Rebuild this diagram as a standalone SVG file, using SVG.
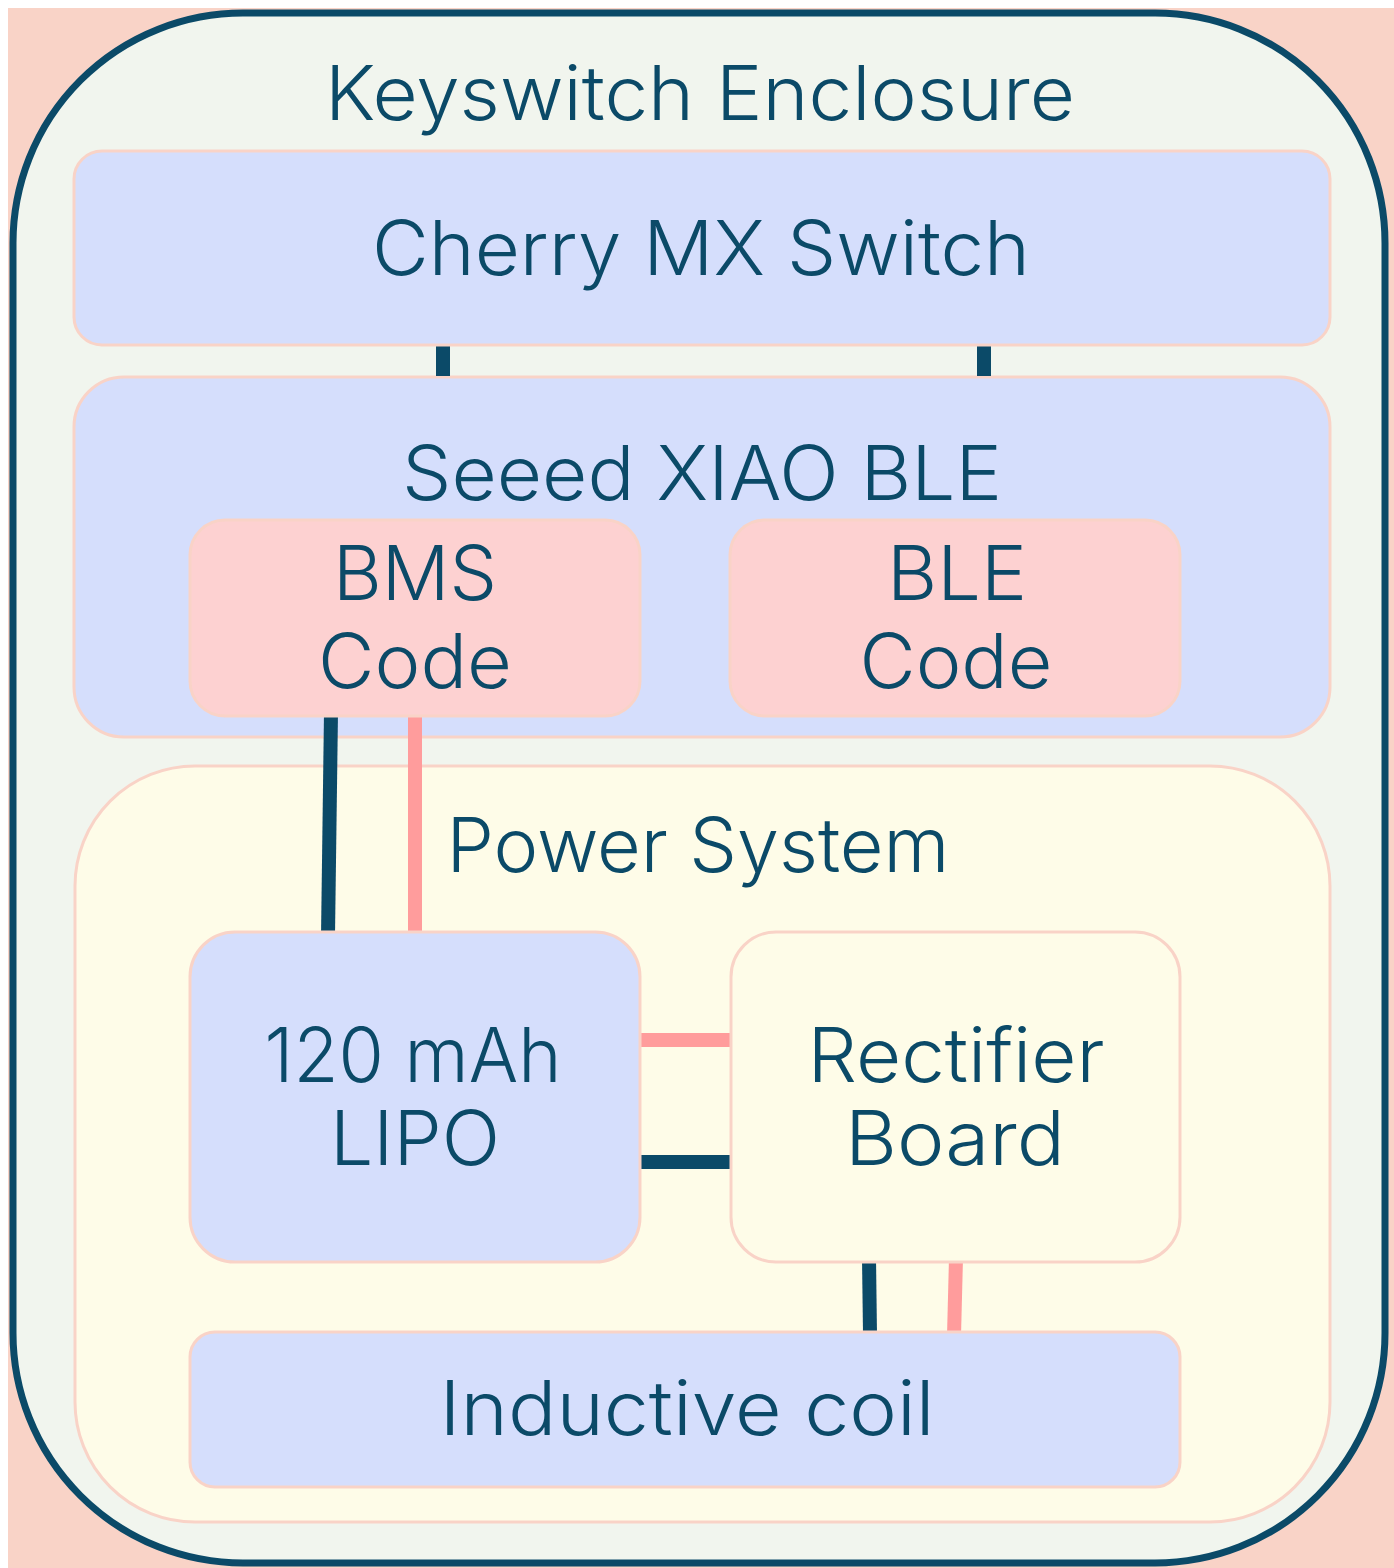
<svg xmlns="http://www.w3.org/2000/svg" width="1394" height="1568" viewBox="0 0 1394 1568">
<style>
.box{stroke:#F9D3C7;stroke-width:3}
.blue{fill:#D5DEFC}
.pink{fill:#FDD1D1}
.cream{fill:#FEFCE8}
.t{font-family:"Inter","Lato","Noto Sans","Liberation Sans",sans-serif;font-weight:300;font-size:75px;fill:#0B4A68;text-anchor:middle}
.dk{stroke:#0B4A68;stroke-width:14;fill:none}
.pk{stroke:#FF9C9C;stroke-width:14;fill:none}
</style>
<rect x="0" y="0" width="1394" height="1568" fill="#FFFFFF"/>
<rect x="8" y="8" width="1386" height="1560" fill="#F9D3C7"/>
<g id="enclosure">
<rect x="13" y="13" width="1372" height="1550" rx="230" ry="230" fill="#F1F5EE" stroke="#0B4A68" stroke-width="7"/>
<text class="t" x="700" y="120" textLength="750" lengthAdjust="spacingAndGlyphs">Keyswitch Enclosure</text>
</g>
<g id="power">
<rect class="box cream" x="75" y="766" width="1255" height="756" rx="120"/>
<text class="t" x="698" y="872" textLength="503" lengthAdjust="spacingAndGlyphs">Power System</text>
</g>
<g id="seeed">
<rect class="box blue" x="74" y="377" width="1256" height="360" rx="50"/>
<text class="t" x="702" y="500" textLength="600" lengthAdjust="spacingAndGlyphs">Seeed XIAO BLE</text>
</g>
<g id="connectors">
<line class="dk" x1="443" y1="340" x2="443" y2="376"/>
<line class="dk" x1="984" y1="340" x2="984" y2="376"/>
<line class="dk" x1="331" y1="712" x2="328" y2="936"/>
<line class="pk" x1="415" y1="712" x2="415" y2="936"/>
<line class="pk" x1="636" y1="1040" x2="732" y2="1040"/>
<line class="dk" x1="641" y1="1162" x2="730" y2="1162"/>
<line class="dk" x1="869" y1="1258" x2="870" y2="1334"/>
<line class="pk" x1="956" y1="1258" x2="954" y2="1336"/>
</g>
<g id="cherry">
<rect class="box blue" x="74" y="151" width="1256" height="194" rx="28"/>
<text class="t" x="701" y="275" textLength="658" lengthAdjust="spacingAndGlyphs">Cherry MX Switch</text>
</g>
<g id="bms">
<rect class="box pink" x="190" y="520" width="450" height="196" rx="35"/>
<text class="t" x="415" y="600" textLength="164" lengthAdjust="spacingAndGlyphs">BMS</text>
<text class="t" x="415" y="688" textLength="194" lengthAdjust="spacingAndGlyphs">Code</text>
</g>
<g id="ble">
<rect class="box pink" x="730" y="520" width="450" height="196" rx="35"/>
<text class="t" x="957" y="600" textLength="140" lengthAdjust="spacingAndGlyphs">BLE</text>
<text class="t" x="956" y="688" textLength="193" lengthAdjust="spacingAndGlyphs">Code</text>
</g>
<g id="lipo">
<rect class="box blue" x="190" y="932" width="450" height="330" rx="45"/>
<text class="t" x="413" y="1082" textLength="297" lengthAdjust="spacingAndGlyphs">120 mAh</text>
<text class="t" x="415" y="1165" textLength="170" lengthAdjust="spacingAndGlyphs">LIPO</text>
</g>
<g id="rectifier">
<rect class="box cream" x="731" y="932" width="449" height="330" rx="45"/>
<text class="t" x="956" y="1082" textLength="297" lengthAdjust="spacingAndGlyphs">Rectifier</text>
<text class="t" x="955" y="1165" textLength="220" lengthAdjust="spacingAndGlyphs">Board</text>
</g>
<g id="coil">
<rect class="box blue" x="190" y="1332" width="990" height="155" rx="25"/>
<text class="t" x="687" y="1435" textLength="495" lengthAdjust="spacingAndGlyphs">Inductive coil</text>
</g>
</svg>
